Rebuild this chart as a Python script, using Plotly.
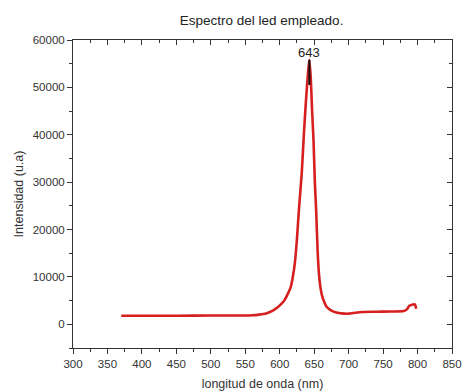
import plotly.graph_objects as go

wavelength = [370, 400, 450, 500, 530, 550, 560, 570, 580, 590, 597, 603, 607, 611, 616, 619, 622,
              625, 628, 632, 635, 638, 641, 643, 645, 647, 649, 651, 653, 655, 657, 659, 661, 664,
              668, 675, 682, 690, 700, 710, 720, 740, 760, 780, 785, 788, 792, 796, 797, 798]
intensity = [1800, 1800, 1800, 1850, 1850, 1850, 1900, 2050, 2300, 2900, 3600, 4400, 5100, 6200, 7900,
             10000, 13000, 18000, 24500, 32000, 40000, 47000, 53000, 55800, 52000, 45000, 39000,
             30000, 23500, 15500, 10500, 7900, 6300, 4900, 3700, 2900, 2500, 2300, 2250, 2450, 2600,
             2650, 2700, 2800, 3200, 3900, 4150, 4200, 3900, 3300]
peak_x = [643, 643]
peak_y = [55800, 50500]
peak_label = "643"

title = "Espectro del led empleado."
x_title = "longitud de onda (nm)"
y_title = "Intensidad (u.a)"

FONT = "Arial, Liberation Sans, sans-serif"
XR = [300, 850]
YR = [-5000, 60000]

fig = go.Figure()
fig.add_trace(go.Scatter(x=wavelength, y=intensity, mode="lines",
                         line=dict(color="#d61f1f", width=2.6, shape="spline", smoothing=0.6),
                         showlegend=False))
fig.add_trace(go.Scatter(x=peak_x, y=peak_y, mode="lines", xaxis="x2", yaxis="y2",
                         line=dict(color="#111111", width=2), showlegend=False))
fig.add_annotation(x=peak_x[0], y=peak_y[0], text=peak_label, showarrow=False,
                   yanchor="bottom", yshift=-2, font=dict(family=FONT, size=13, color="#222"))

axis_common = dict(showline=True, linecolor="#333", linewidth=1, showgrid=False, zeroline=False,
                   ticklen=5, tickcolor="#333", tickwidth=1, automargin=False)

fig.update_layout(
    width=463, height=391,
    margin=dict(l=73, r=11, t=40, b=43),
    paper_bgcolor="white", plot_bgcolor="white",
    title=dict(text=title, x=0.565, xanchor="center", y=0.949, yanchor="middle",
               font=dict(family=FONT, size=13.5, color="#222")),
    xaxis=dict(range=XR, dtick=50, tick0=300, ticks="outside",
               minor=dict(ticks="outside", ticklen=3, dtick=25, tickcolor="#333"),
               title=dict(text=x_title, font=dict(family=FONT, size=12.5, color="#333"), standoff=10),
               tickfont=dict(family=FONT, size=11.5, color="#333"), **axis_common),
    yaxis=dict(range=YR, dtick=10000, tick0=0, ticks="outside", tickformat="d",
               minor=dict(ticks="outside", ticklen=3, dtick=5000, tickcolor="#333"),
               title=dict(text=y_title, font=dict(family=FONT, size=12.5, color="#333"), standoff=6),
               tickfont=dict(family=FONT, size=11.5, color="#333"), **axis_common),
    xaxis2=dict(range=XR, overlaying="x", side="top", dtick=50, tick0=300, ticks="inside",
                showticklabels=False,
                minor=dict(ticks="inside", ticklen=3, dtick=25, tickcolor="#333"), **axis_common),
    yaxis2=dict(range=YR, overlaying="y", side="right", dtick=10000, tick0=0, ticks="inside",
                showticklabels=False,
                minor=dict(ticks="inside", ticklen=3, dtick=5000, tickcolor="#333"), **axis_common),
)

fig.write_html("out.html")
